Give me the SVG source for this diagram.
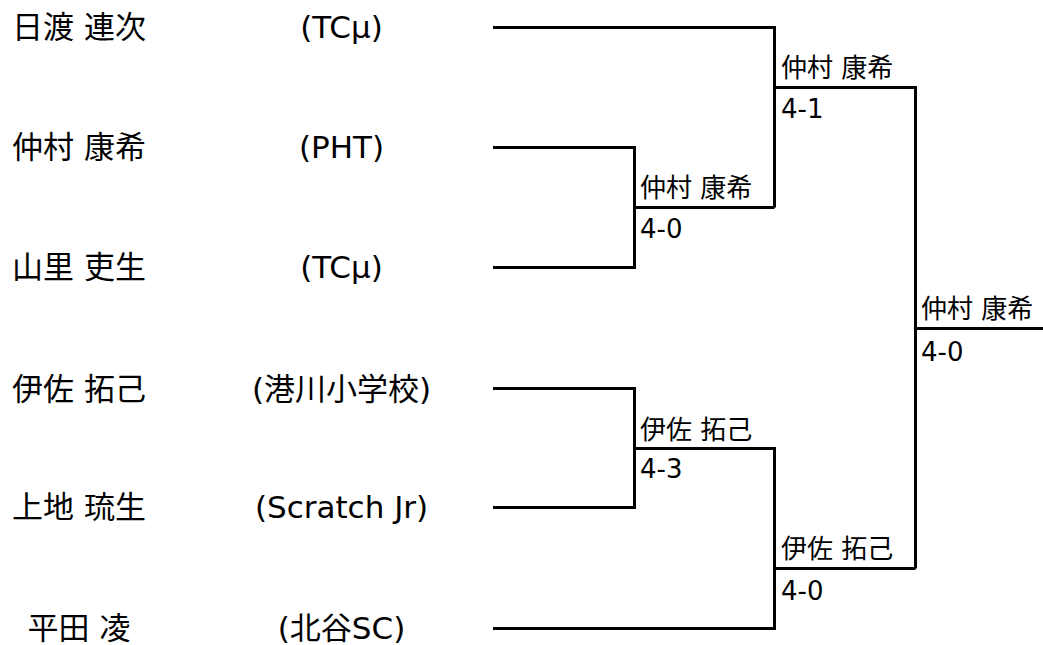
<svg xmlns="http://www.w3.org/2000/svg" width="1043" height="645" viewBox="0 0 1043 645">
<style>
.name{font-family:"DejaVu Sans","Noto Sans CJK JP",sans-serif;font-size:31px;fill:#000;text-anchor:middle}
.lbl{font-family:"DejaVu Sans","Noto Sans CJK JP",sans-serif;font-size:26px;fill:#000}
.ln{fill:none;stroke:#000;stroke-width:3;stroke-linecap:butt;stroke-linejoin:miter}
</style>
<rect width="1043" height="645" fill="#fff"/>
<g id="connectors">
<path class="ln" d="M493,27.5 H774.5 V207.5"/>
<path class="ln" d="M493,147.5 H634.5 V267.5 H493"/>
<path class="ln" d="M634.5,207.5 H774.5"/>
<path class="ln" d="M774.5,87.5 H915.5 V568.5"/>
<path class="ln" d="M915.5,328.5 H1043"/>
<path class="ln" d="M493,388.5 H634.5 V507.5 H493"/>
<path class="ln" d="M634.5,448.5 H774.5 V628.5 H493"/>
<path class="ln" d="M774.5,568.5 H915.5"/>
</g>
<g id="p1"><text class="name" x="79" y="38">日渡 連次</text><text class="name" x="341.5" y="38">(TCμ)</text></g>
<g id="p2"><text class="name" x="79" y="158">仲村 康希</text><text class="name" x="341.5" y="158">(PHT)</text></g>
<g id="p3"><text class="name" x="79" y="278">山里 吏生</text><text class="name" x="341.5" y="278">(TCμ)</text></g>
<g id="p4"><text class="name" x="79" y="400">伊佐 拓己</text><text class="name" x="341.5" y="400">(港川小学校)</text></g>
<g id="p5"><text class="name" x="79" y="518">上地 琉生</text><text class="name" x="341.5" y="518">(Scratch Jr)</text></g>
<g id="p6"><text class="name" x="79" y="639">平田 凌</text><text class="name" x="341.5" y="639">(北谷SC)</text></g>
<g id="m1"><text class="lbl" x="640" y="197">仲村 康希</text><text class="lbl" x="640" y="238">4-0</text></g>
<g id="m2"><text class="lbl" x="640" y="439">伊佐 拓己</text><text class="lbl" x="640" y="478">4-3</text></g>
<g id="m3"><text class="lbl" x="781" y="77">仲村 康希</text><text class="lbl" x="781" y="118">4-1</text></g>
<g id="m4"><text class="lbl" x="781" y="558">伊佐 拓己</text><text class="lbl" x="781" y="600">4-0</text></g>
<g id="m5"><text class="lbl" x="921" y="318">仲村 康希</text><text class="lbl" x="921" y="361">4-0</text></g>
</svg>
